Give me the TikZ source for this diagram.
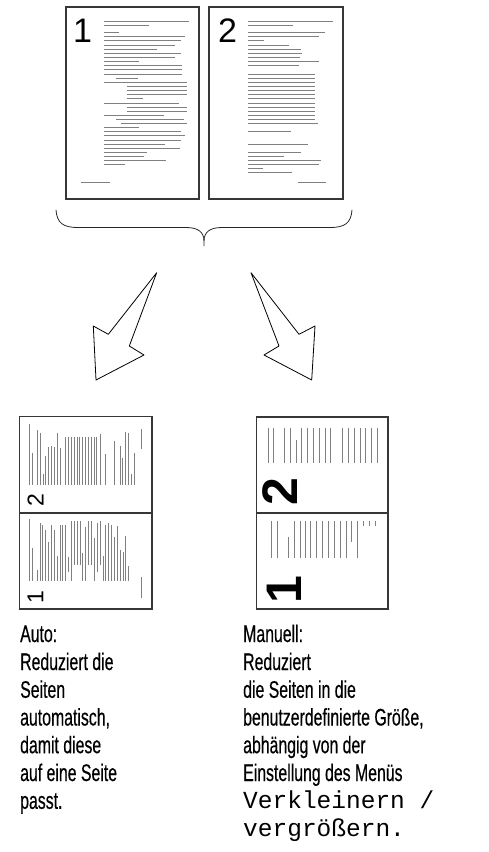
\documentclass[tikz,border=0pt]{standalone}
\usepackage{fontspec}
\newfontfamily\capfont[FakeStretch=0.66,FakeBold=0.4]{Liberation Sans}
\newfontfamily\numfont{Liberation Sans}
\newfontfamily\codefont{Liberation Mono}
\definecolor{lgrey}{RGB}{128,128,128}
\definecolor{ldark}{RGB}{30,30,30}
\definecolor{boxc}{RGB}{55,55,55}
\tikzset{
  pagebox/.style={draw=boxc, line width=1.3pt},
  hl/.style={line width=0.9pt},
  vl/.style={line width=0.9pt},
  bigarrow/.style={draw=black, line width=0.8pt, line join=round},
  brace/.style={draw=black!85, line width=0.8pt},
  caption/.style={anchor=base west, inner sep=0pt, font=\capfont\fontsize{24}{28}\selectfont},
  codecap/.style={anchor=base west, inner sep=0pt, font=\codefont\fontsize{24.5}{28}\selectfont},
}
\begin{document}
\begin{tikzpicture}[x=1pt,y=-1pt]
\useasboundingbox (0,0) rectangle (488,852);
% ---------- top pages ----------
\draw[pagebox] (66,7) rectangle (199,199);
\draw[pagebox] (209,7) rectangle (343,199);
\node[inner sep=0pt, font=\numfont\fontsize{34}{34}\selectfont] (n1) at (82.5,30.5) {1};
\node[inner sep=0pt, font=\numfont\fontsize{34}{34}\selectfont] (n2) at (227.5,30.5) {2};
\foreach \a/\b/\y/\c in {104/189.3/21/g, 104/149.3/25/g, 104/119.3/32.7/g, 104/185/36.7/g, 104/180.7/40.7/g,
  104/175/45/g, 104/157.3/49/g, 104/181.3/53.3/k, 104/175/57.3/k, 104/139.3/61.7/g, 104/181.7/65.7/g,
  104/181.7/69.7/g, 104/181.7/74/g, 116/137.7/78/g, 104/187/82/k, 126.7/187/86.3/k, 126.7/187/90.3/k,
  126.7/187/94.3/g, 126.7/142.7/98.7/g, 104/178.7/103/g, 126.7/187/107/g, 126.7/187/111/g, 104/164/115/k,
  116/184/119/k, 120.7/187/123.3/g, 104/139.3/127.7/g, 104/180.7/131.7/g, 104/185/135.7/g, 104/180.7/140/g,
  104/165/144/k, 104/180/148/k, 104/147.3/152.3/k, 104/144/156.3/g, 104/166/160.3/g, 104/125/164.7/g,
  81/110/182.7/g,
  247.7/332.7/21/g, 247.7/292.7/25/g, 247.7/325/32.7/g, 247.7/319.3/36.7/g, 247.7/264/40.7/g,
  247.7/289.3/45/g, 247.7/300.7/49/k, 247.7/302.3/53.3/k, 247.7/300/57.3/k, 247.7/319.3/61.7/g,
  247.7/299.3/65.7/g, 247.7/315/74/g, 247.7/315/78/k, 247.7/315/82/g, 247.7/315/86.3/k, 247.7/315/90.3/k,
  247.7/315/94.3/g, 247.7/315/98.7/k, 247.7/315/103/g, 247.7/315/107/k, 247.7/315/111/g, 247.7/315/115/k,
  247.7/315/119/k, 247.7/318.3/123.3/g, 247.7/290.7/131.7/g, 247.7/308.3/144/k, 247.7/300.7/152.3/k,
  247.7/284.3/156.3/g, 247.7/320.7/160.3/g, 247.7/319.3/164.7/g, 247.7/262.7/168.7/g, 247.7/292.3/172.7/k,
  298.3/326/182.7/g}{
  \ifx\c k\def\lc{ldark}\else\def\lc{lgrey}\fi
  \draw[hl, draw=\lc] (\a,\y) -- (\b,\y);
}
% ---------- brace ----------
\draw[brace] (56,210) .. controls (57,223) and (63,227.5) .. (78,227.5) -- (186,227.5)
  .. controls (198,227.5) and (204,232) .. (204,241) -- (204,246);
\draw[brace] (204,241) .. controls (204,232) and (210,227.5) .. (222,227.5) -- (330,227.5)
  .. controls (345,227.5) and (351,223) .. (352,210);
% ---------- arrows ----------
\draw[bigarrow] (156.7,272.7) -- (108.3,334.3) -- (93.3,326) -- (96,380) -- (144,355) -- (129.3,346) -- cycle;
\draw[bigarrow] (251,272.7) -- (299,334.3) -- (315,326) -- (311.7,380) -- (264,355) -- (279,346) -- cycle;
% ---------- bottom left page ----------
\draw[pagebox] (19.5,416.5) rectangle (152,609);
\draw[pagebox] (19.5,513) -- (152,513);
\foreach \x/\t/\bb/\c in {29.7/424/485/k, 32/453/485/g, 37/429.7/485/k, 40.3/433/485/k, 43/474/485/g,
  45.7/455.7/485/g, 48.3/447.3/485/g, 51/446.3/485/g, 54.3/447.3/485/g, 57.3/433/485/k, 60/448/485/g,
  65.7/437.3/485/g, 68.5/437.3/485/g, 71.3/437.3/485/g, 74.2/437.3/485/g, 77/437.3/485/g, 79.8/437.3/485/g,
  82.7/437.3/485/g, 85.5/437.3/485/g, 88.3/437.3/485/g, 91.2/437.3/485/k, 94/437.3/485/g, 96.8/437.3/485/g,
  100/434/485/g, 105.7/454/485/g, 114.3/441.3/485/k, 120/446.3/485/g, 122.7/458.3/485/g, 125.7/432.3/485/g,
  128.3/433/485/g, 131.3/474/485/g, 134.3/453/485/k, 141/429/449/g,
  29.7/519.3/581/k, 32/548.3/581/g, 37.3/570/581/k, 40/522.7/581/g, 42.7/525/581/g, 45.7/530/581/g,
  48.3/542.3/581/g, 51.3/525/581/g, 54/530/581/k, 57/555.7/581/k, 60/525/581/g, 62.7/525/581/g,
  65.7/525/581/g, 68.7/556.7/572.3/g, 71.7/521/581/k, 74.3/521/565/k, 77/521/565/g, 80/521/565/g,
  82.7/552.7/581/g, 85.7/527.3/581/g, 88.7/521/565/g, 91.3/521/565/g, 94.3/537.7/581/k, 97/522.7/572.3/g,
  100/521/565/k, 103/555.7/581/g, 105.7/525/581/g, 108.7/522.7/581/g, 111.3/525/581/g, 114.3/536.7/581/k,
  117/526/581/k, 120/550/581/g, 123/552.3/581/g, 125.7/536/581/g, 128.7/566/581/k, 141/577.3/597.7/g,
  268.3/428.3/462.7/k, 273.3/428.3/462.7/k, 284.3/428.3/462.7/k, 290/428.3/462.7/g, 296/440/462.7/k,
  301.7/428.3/462.7/g, 307.3/428.3/462.7/k, 313.3/428.3/462.7/g, 319/428.3/462.7/k, 325/428.3/462.7/k,
  330.7/428.3/462.7/g, 342.7/428.3/462.7/g, 348.3/428.3/462.7/k, 354/428.3/462.7/g, 360/428.3/462.7/k,
  365.7/428.3/462.7/g, 371.7/428.3/462.7/k, 377.3/428.3/462.7/g,
  271.7/520.7/558.3/k, 277.3/520.7/558.3/k, 288.3/536.7/558.3/g, 294/520.7/558.3/k, 300/520.7/558.3/k,
  305.7/520.7/558.3/g, 310.7/520.7/558.3/k, 316.7/520.7/558.3/g, 322.3/520.7/558.3/k, 328.3/520.7/558.3/g,
  334/520.7/558.3/k, 340/520.7/558.3/g, 346/520.7/558.3/k, 351.7/520.7/541.7/g, 357.3/520.7/558.3/g,
  363.3/520.7/526/k, 369/520.7/526/g, 375/520.7/526/k}{
  \ifx\c k\def\lc{ldark}\else\def\lc{lgrey}\fi
  \draw[vl, draw=\lc] (\x,\t) -- (\x,\bb);
}
\node[inner sep=0pt, rotate=90, font=\numfont\fontsize{23}{23}\selectfont] (s2) at (35.5,500.5) {2};
\node[inner sep=0pt, rotate=90, font=\numfont\fontsize{23}{23}\selectfont] (s1) at (35.5,597) {1};
% ---------- bottom right page ----------
\draw[pagebox] (256.5,417) rectangle (388,609);
\draw[pagebox] (256.5,513) -- (388,513);
\node[inner sep=0pt, rotate=90, font=\numfont\bfseries\fontsize{50}{50}\selectfont] (b2) at (280.5,492) {2};
\node[inner sep=0pt, rotate=90, font=\numfont\bfseries\fontsize{50}{50}\selectfont] (b1) at (284,590) {1};
% ---------- captions ----------
\node[caption] (a1) at (20,642) {Auto:};
\node[caption] (a2) at (20,670) {Reduziert die};
\node[caption] (a3) at (20,697.8) {Seiten};
\node[caption] (a4) at (20,725.5) {automatisch,};
\node[caption] (a5) at (20,753.2) {damit diese};
\node[caption] (a6) at (20,781) {auf eine Seite};
\node[caption] (a7) at (20,808.8) {passt.};
\node[caption] (m1) at (243,642) {Manuell:};
\node[caption] (m2) at (243,670) {Reduziert};
\node[caption] (m3) at (243,697.8) {die Seiten in die};
\node[caption] (m4) at (243,725.5) {benutzerdefinierte Größe,};
\node[caption] (m5) at (243,753.2) {abhängig von der};
\node[caption] (m6) at (243,781) {Einstellung des Menüs};
\node[codecap] (m7) at (243,808.8) {Verkleinern /};
\node[codecap] (m8) at (243,836.5) {vergrößern.};
\end{tikzpicture}
\end{document}
